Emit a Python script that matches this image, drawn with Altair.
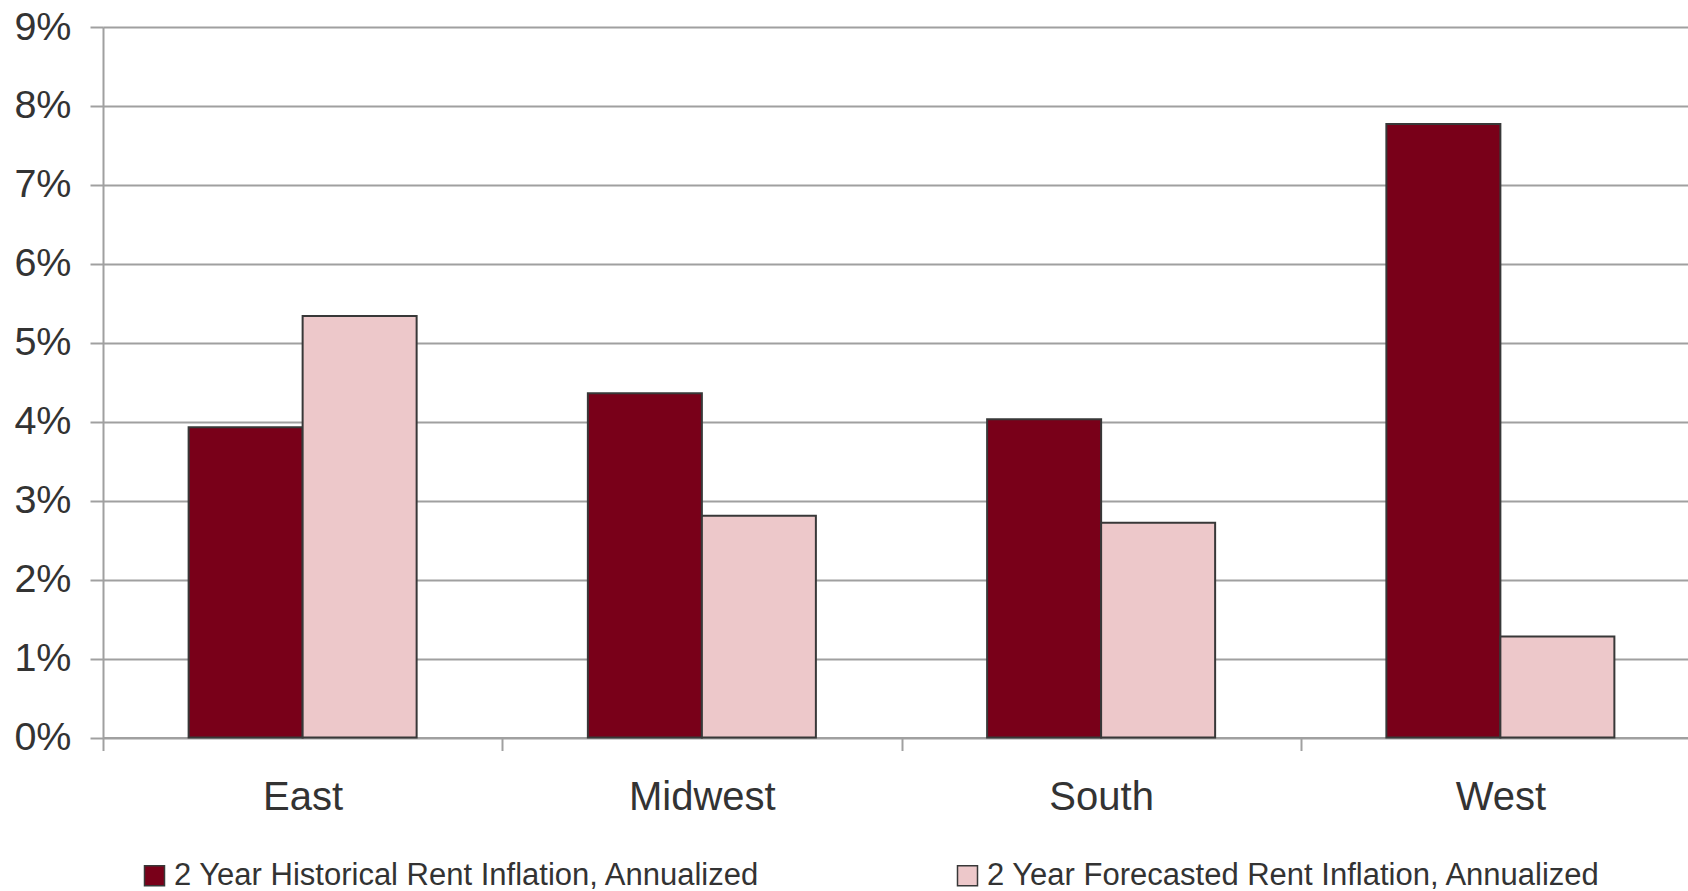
import altair as alt
import pandas as pd

# Regional rent inflation, annualized (fractions)
regions = ["East", "Midwest", "South", "West"]
historical = [0.0393, 0.0436, 0.0403, 0.0777]
forecast = [0.0534, 0.0281, 0.0272, 0.0128]
series_names = [
    "2 Year Historical Rent Inflation, Annualized",
    "2 Year Forecasted Rent Inflation, Annualized",
]
y_ticks = [i / 100 for i in range(10)]

rows = []
for r, h, f in zip(regions, historical, forecast):
    rows.append({"region": r, "series": series_names[0], "value": h})
    rows.append({"region": r, "series": series_names[1], "value": f})
df = pd.DataFrame(rows)

FONT = "Liberation Sans"
TEXT = "#333333"
GRID = "#a0a0a0"

chart = (
    alt.Chart(df)
    .mark_bar(stroke="#383838", strokeWidth=2)
    .encode(
        x=alt.X(
            "region:N",
            sort=regions,
            # category bands touch; the gap between bar pairs comes from the offset scale
            scale=alt.Scale(range=[0, 1597], paddingInner=0, paddingOuter=0),
            axis=alt.Axis(
                title=None,
                labelAngle=0,
                tickBand="extent",
                grid=False,
                domainColor=GRID,
                domainWidth=2,
                tickColor=GRID,
                tickWidth=2,
                tickSize=13,
                labelFont=FONT,
                labelFontSize=40,
                labelColor=TEXT,
                labelPadding=27,
                labelBaseline="top",
            ),
        ),
        xOffset=alt.XOffset(
            "series:N",
            sort=series_names,
            scale=alt.Scale(paddingInner=0, paddingOuter=0.751),
        ),
        y=alt.Y(
            "value:Q",
            scale=alt.Scale(domain=[0, 0.09], nice=False),
            axis=alt.Axis(
                title=None,
                format=".0%",
                values=y_ticks,
                grid=True,
                gridColor=GRID,
                gridWidth=2,
                domainColor=GRID,
                domainWidth=2,
                tickColor=GRID,
                tickWidth=2,
                tickSize=13,
                labelFont=FONT,
                labelFontSize=39.5,
                labelColor=TEXT,
                labelPadding=19,
                labelBaseline="middle",
            ),
        ),
        color=alt.Color(
            "series:N",
            sort=series_names,
            scale=alt.Scale(domain=series_names, range=["#790019", "#edc8ca"]),
            legend=alt.Legend(
                title=None,
                orient="none",
                legendX=36,
                legendY=833,
                direction="horizontal",
                columnPadding=191,
                symbolType="square",
                symbolSize=400,
                symbolStrokeColor="#383838",
                symbolStrokeWidth=1.5,
                symbolOpacity=1,
                labelFont=FONT,
                labelFontSize=31,
                labelColor=TEXT,
                labelOffset=4,
                labelLimit=0,
            ),
        ),
    )
    .properties(
        width=1585,
        height=710.5,
        autosize=alt.AutoSizeParams(type="none"),
        padding={"left": 103, "top": 27, "right": 0, "bottom": 153.5},
    )
    .configure_view(stroke=None)
    .configure(background="white")
)

chart.save("out.html", embed_options={"renderer": "svg", "actions": False})
